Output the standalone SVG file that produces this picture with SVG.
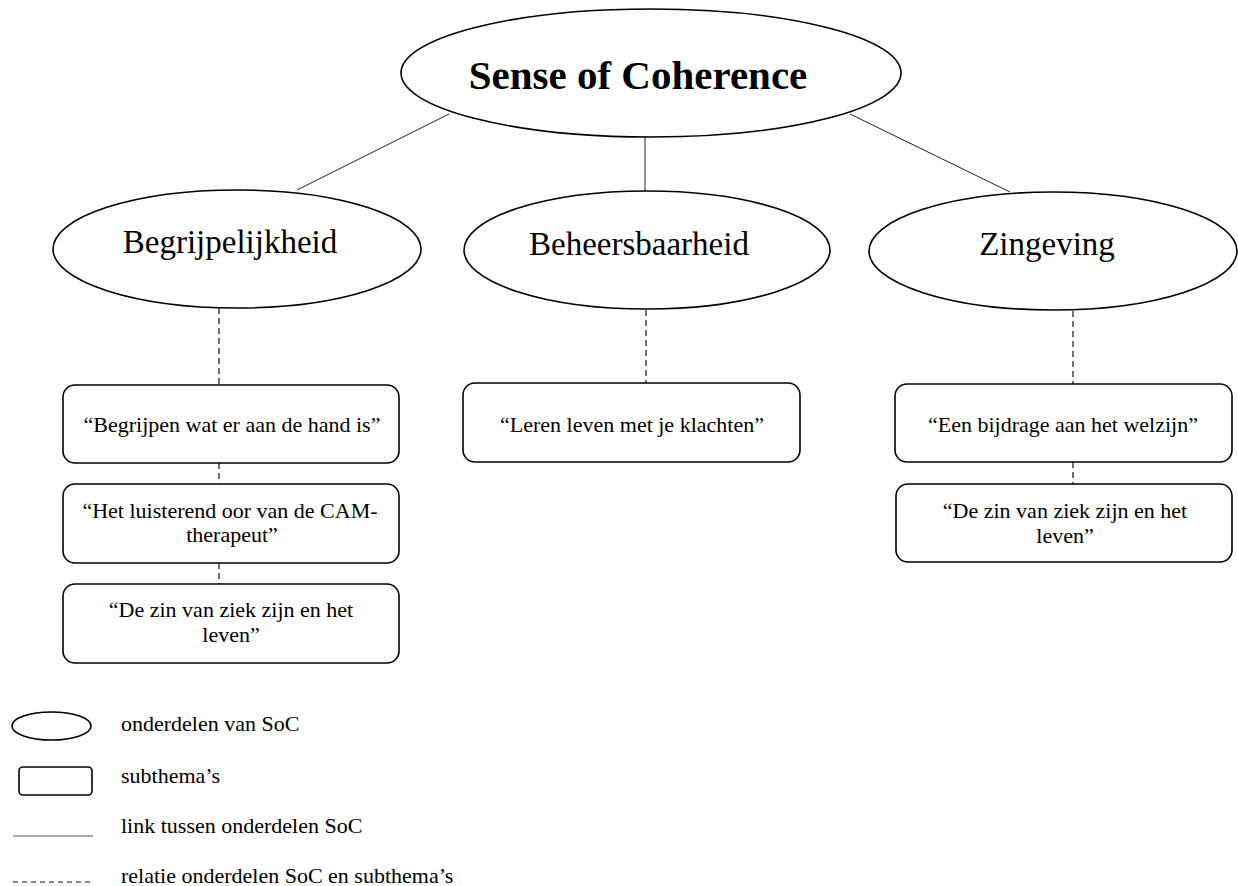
<svg xmlns="http://www.w3.org/2000/svg" width="1238" height="886" viewBox="0 0 1238 886">
<style>
  .ell { fill: #fff; stroke: #000; stroke-width: 1.6; }
  .box { fill: #fff; stroke: #000; stroke-width: 1.6; }
  .link { stroke: #222; stroke-width: 1; fill: none; }
  .rel { stroke: #111; stroke-width: 1.2; fill: none; stroke-dasharray: 6 4; }
  text { font-family: "Liberation Serif", "Times New Roman", serif; fill: #000; }
  .title { font-size: 41px; font-weight: bold; text-anchor: middle; }
  .part { font-size: 33px; text-anchor: middle; }
  .sub { font-size: 22px; text-anchor: middle; }
  .leg { font-size: 22px; }
</style>
<rect width="1238" height="886" fill="#fff"/>
<g id="connectors">
  <line class="link" x1="449" y1="114" x2="297" y2="190"/>
  <line class="link" x1="645" y1="137" x2="645" y2="191"/>
  <line class="link" x1="850" y1="114" x2="1010" y2="192"/>
  <line class="rel" x1="219" y1="308" x2="219" y2="385"/>
  <line class="rel" x1="219" y1="463" x2="219" y2="484"/>
  <line class="rel" x1="219" y1="563" x2="219" y2="584"/>
  <line class="rel" x1="646" y1="310" x2="646" y2="383"/>
  <line class="rel" x1="1073" y1="311" x2="1073" y2="384"/>
  <line class="rel" x1="1073" y1="462" x2="1073" y2="484"/>
</g>
<g id="soc">
  <ellipse class="ell" cx="651" cy="73" rx="250" ry="64"/>
  <text class="title" x="638" y="89">Sense of Coherence</text>
</g>
<g id="begrijpelijkheid">
  <ellipse class="ell" cx="237" cy="249" rx="184" ry="59"/>
  <text class="part" x="230" y="253">Begrijpelijkheid</text>
</g>
<g id="beheersbaarheid">
  <ellipse class="ell" cx="647" cy="250" rx="183" ry="59"/>
  <text class="part" x="639" y="255">Beheersbaarheid</text>
</g>
<g id="zingeving">
  <ellipse class="ell" cx="1053" cy="251" rx="184" ry="59"/>
  <text class="part" x="1047" y="255">Zingeving</text>
</g>
<g id="sub-b1">
  <rect class="box" x="63" y="385" width="336" height="78" rx="12"/>
  <text class="sub" x="232" y="432">“Begrijpen wat er aan de hand is”</text>
</g>
<g id="sub-b2">
  <rect class="box" x="63" y="484" width="336" height="79" rx="12"/>
  <text class="sub" x="230" y="518">“Het luisterend oor van de CAM-</text>
  <text class="sub" x="232" y="542">therapeut”</text>
</g>
<g id="sub-b3">
  <rect class="box" x="63" y="584" width="336" height="79" rx="12"/>
  <text class="sub" x="231" y="617">“De zin van ziek zijn en het</text>
  <text class="sub" x="231" y="642">leven”</text>
</g>
<g id="sub-h1">
  <rect class="box" x="463" y="383" width="337" height="79" rx="12"/>
  <text class="sub" x="632" y="432">“Leren leven met je klachten”</text>
</g>
<g id="sub-z1">
  <rect class="box" x="895" y="384" width="337" height="78" rx="12"/>
  <text class="sub" x="1063" y="432">“Een bijdrage aan het welzijn”</text>
</g>
<g id="sub-z2">
  <rect class="box" x="896" y="484" width="336" height="78" rx="12"/>
  <text class="sub" x="1065" y="518">“De zin van ziek zijn en het</text>
  <text class="sub" x="1065" y="543">leven”</text>
</g>
<g id="legend">
  <ellipse class="ell" cx="51.5" cy="726" rx="39.5" ry="14"/>
  <text class="leg" x="121" y="731">onderdelen van SoC</text>
  <rect class="box" x="19" y="767" width="73" height="28" rx="4"/>
  <text class="leg" x="121" y="783">subthema’s</text>
  <line x1="13" y1="836" x2="93" y2="836" stroke="#555" stroke-width="1.2"/>
  <text class="leg" x="121" y="833">link tussen onderdelen SoC</text>
  <line x1="13" y1="882" x2="93" y2="882" stroke="#111" stroke-width="1.2" stroke-dasharray="5 4"/>
  <text class="leg" x="121" y="883">relatie onderdelen SoC en subthema’s</text>
</g>
</svg>
